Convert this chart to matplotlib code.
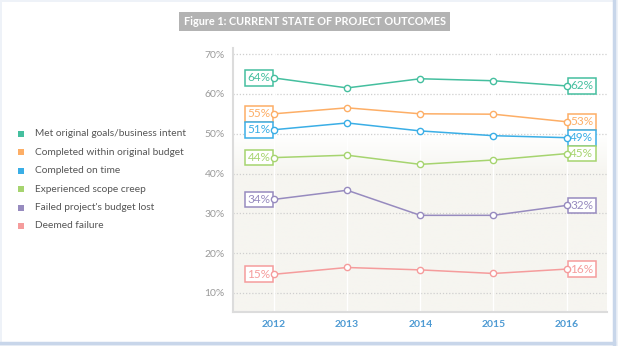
import numpy as np
import matplotlib
matplotlib.use('Agg')
import matplotlib.pyplot as plt
from matplotlib.patches import Rectangle
from matplotlib.lines import Line2D

years = [2012, 2013, 2014, 2015, 2016]
names = ['Met original goals/business intent', 'Completed within original budget',
         'Completed on time', 'Experienced scope creep',
         "Failed project's budget lost", 'Deemed failure']
met = [64, 61.5, 63.8, 63.3, 62]
budget = [55, 56.5, 55, 54.9, 53]
ontime = [51, 52.7, 50.7, 49.5, 49]
scope = [44, 44.6, 42.3, 43.4, 45]
lost = [33.5, 35.8, 29.5, 29.5, 32]
failed = [14.7, 16.4, 15.8, 14.9, 16]
first_lbl = ['64%', '55%', '51%', '44%', '34%', '15%']
last_lbl = ['62%', '53%', '49%', '45%', '32%', '16%']
yticks = [10, 20, 30, 40, 50, 60, 70]

series = [met, budget, ontime, scope, lost, failed]
colors = ['#45bf9f', '#fdae66', '#3aaee6', '#a6d46f', '#978bbf', '#f59c9c']

plt.rcParams['font.family'] = ['Lato', 'DejaVu Sans']
fig = plt.figure(figsize=(6.18, 3.46), dpi=100)
fig.patch.set_facecolor('#eef2f8')
fig.patches.append(Rectangle((0.004, 0.012), 0.988, 0.982, transform=fig.transFigure,
                             facecolor='white', edgecolor='none', zorder=-5))
fig.add_artist(Line2D([0.993, 0.993], [0.006, 1], transform=fig.transFigure, color='#c8d6ea', lw=2.5, zorder=-4))
fig.add_artist(Line2D([0, 0.993], [0.009, 0.009], transform=fig.transFigure, color='#c8d6ea', lw=2.5, zorder=-4))

# title bar
fig.text(0.509, 0.938, 'Figure 1: CURRENT STATE OF PROJECT OUTCOMES', ha='center', va='center',
         color='white', fontsize=7.8, fontweight='bold',
         bbox=dict(boxstyle='square,pad=0.4', facecolor='#b3b3b3', edgecolor='none'))

ax = fig.add_axes([0.377, 0.098, 0.605, 0.763])
ax.set_xlim(2011.44, 2016.55)
ax.set_ylim(5.2, 71.5)

# background gradient
grad = np.ones((200, 1, 3))
yy = np.linspace(71.5, 5.2, 200)
t = np.clip((50 - yy) / 10, 0, 1)
bottom = np.array([0xf6, 0xf5, 0xf0]) / 255
for i in range(3):
    grad[:, 0, i] = 1 - t * (1 - bottom[i])
ax.imshow(grad, extent=[2011.44, 2016.55, 5.2, 71.5], aspect='auto', zorder=0)

for y in yticks:
    ax.axhline(y, color='#cfcfcf', lw=0.9, ls=(0, (1, 1.5)), zorder=1)
for x in years:
    ax.axvline(x, color='white', lw=1, zorder=1)

box = lambda c: dict(boxstyle='square,pad=0.2', facecolor='white', edgecolor=c, lw=1.1)
for vals, c, a, b in zip(series, colors, first_lbl, last_lbl):
    ax.plot(years, vals, color=c, lw=1.1, marker='o', ms=4.5, mfc='white', mec=c, mew=1, zorder=4)
    ax.annotate(a, (years[0], vals[0]), xytext=(-2.6, 0), textcoords='offset points',
                ha='right', va='center', color=c, fontsize=8.5, bbox=box(c), zorder=3)
    ax.annotate(b, (years[-1], vals[-1]), xytext=(2.6, 0), textcoords='offset points',
                ha='left', va='center', color=c, fontsize=8.5, bbox=box(c), zorder=3)

ax.set_yticks(yticks)
ax.set_yticklabels([f'{y}%' for y in yticks], color='#9a9a9a', fontsize=7.5)
ax.set_xticks(years)
ax.set_xticklabels([str(y) for y in years], color='#4d9ad3', fontsize=7.5, fontweight='bold')
ax.tick_params(length=0, pad=6)
for s in ['top', 'right']:
    ax.spines[s].set_visible(False)
for s in ['left', 'bottom']:
    ax.spines[s].set_color('#dcdcdc')
    ax.spines[s].set_linewidth(1.5)

# legend
for i, (n, c) in enumerate(zip(names, colors)):
    y = 1 - (134 + i * 18.4) / 346
    fig.add_artist(Rectangle((18 / 618, y - 3 / 346), 6 / 618, 6 / 346, transform=fig.transFigure,
                             facecolor=c, edgecolor='none'))
    fig.text(35 / 618, y, n, ha='left', va='center', color='#555555', fontsize=7.3)

fig.savefig('out.png', dpi=100)
